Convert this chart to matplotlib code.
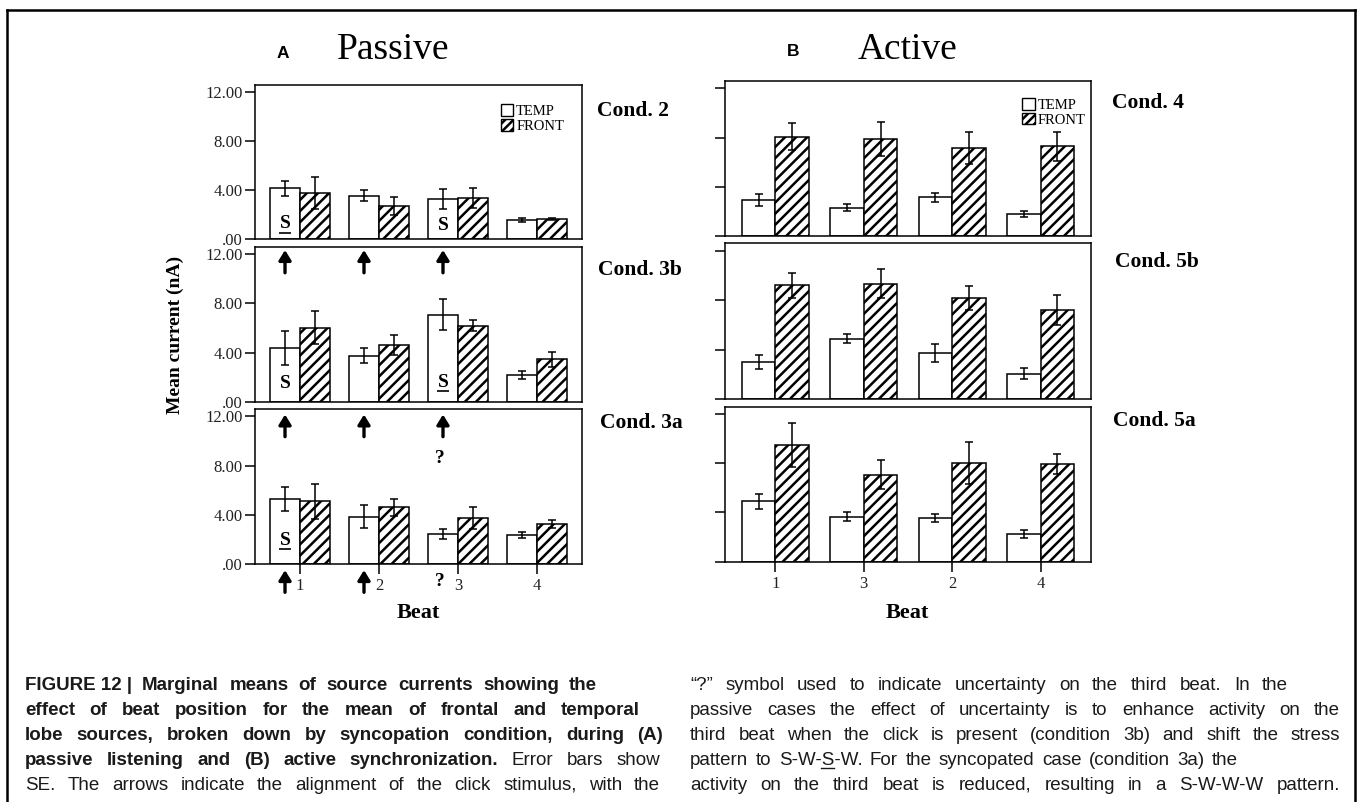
import numpy as np
import matplotlib
matplotlib.use("Agg")
import matplotlib.pyplot as plt
from matplotlib.patches import Patch
from matplotlib.lines import Line2D

# ---------------------------------------------------------------------
# dados: medias e erro padrao por batida
# ---------------------------------------------------------------------
passive_conds = ["Cond. 2", "Cond. 3b", "Cond. 3a"]
passive_beats = ["1", "2", "3", "4"]
passive_temp = [[4.16, 3.56, 3.29, 1.58], [4.36, 3.76, 7.08, 2.18], [5.28, 3.86, 2.42, 2.37]]
passive_temp_se = [[0.64, 0.45, 0.80, 0.20], [1.40, 0.60, 1.25, 0.35], [1.00, 0.95, 0.40, 0.27]]
passive_front = [[3.80, 2.72, 3.37, 1.63], [6.04, 4.63, 6.20, 3.46], [5.09, 4.60, 3.73, 3.24]]
passive_front_se = [[1.30, 0.70, 0.80, 0.08], [1.36, 0.80, 0.47, 0.62], [1.44, 0.68, 0.90, 0.35]]

active_conds = ["Cond. 4", "Cond. 5b", "Cond. 5a"]
active_beats = ["1", "3", "2", "4"]
active_temp = [[2.94, 2.31, 3.13, 1.80], [3.00, 4.89, 3.74, 2.05], [4.90, 3.67, 3.54, 2.24]]
active_temp_se = [[0.50, 0.30, 0.35, 0.27], [0.54, 0.35, 0.73, 0.46], [0.63, 0.40, 0.35, 0.30]]
active_front = [[8.06, 7.89, 7.16, 7.29], [9.19, 9.33, 8.18, 7.20], [9.47, 7.08, 8.03, 7.95]]
active_front_se = [[1.10, 1.36, 1.30, 1.17], [1.00, 1.17, 0.96, 1.20], [1.77, 1.17, 1.70, 0.84]]

yticks = [0, 4, 8, 12]
ytick_labels = [".00", "4.00", "8.00", "12.00"]

W, H = 1360, 802
SERIF = "Liberation Serif"
SANS = "Liberation Sans"
plt.rcParams["font.family"] = SERIF
plt.rcParams["hatch.linewidth"] = 1.8

fig = plt.figure(figsize=(W / 100, H / 100), dpi=100)
renderer = fig.canvas.get_renderer()


def fx(x):
    return x / W


def fy(y):
    return 1 - y / H


def make_axes(left, right, top, bottom):
    return fig.add_axes([fx(left), fy(bottom), (right - left) / W, (bottom - top) / H])


def draw_panel(ax, temp, temp_se, front, front_se, show_ylabels, beats=None):
    x = np.arange(len(temp))
    ekw = dict(ecolor="black", elinewidth=1.1, capsize=3, capthick=1.1)
    ax.bar(x - 0.19, temp, 0.38, color="white", edgecolor="black", linewidth=1.1,
           yerr=temp_se, error_kw=ekw)
    ax.bar(x + 0.19, front, 0.38, color="white", edgecolor="black", linewidth=1.1,
           hatch="///", yerr=front_se, error_kw=ekw)
    ax.set_xlim(-0.57, 3.57)
    ax.set_ylim(0, 12.6)
    ax.set_yticks(yticks)
    ax.set_yticklabels(ytick_labels if show_ylabels else [])
    ax.tick_params(axis="y", direction="out", length=7, width=1.1, pad=2,
                   labelsize=12, labelcolor="#222222")
    if beats is None:
        ax.tick_params(axis="x", bottom=False, labelbottom=False)
    else:
        ax.set_xticks(x)
        ax.set_xticklabels(beats)
        ax.tick_params(axis="x", direction="out", length=7, width=1.1, pad=3,
                       labelsize=12, labelcolor="#222222")
    for s in ax.spines.values():
        s.set_linewidth(1.1)


legend_handles = [
    Patch(facecolor="white", edgecolor="black", linewidth=1.0, label="TEMP"),
    Patch(facecolor="white", edgecolor="black", linewidth=1.0, hatch="////", label="FRONT"),
]

# painel A (passivo)
a_tops, a_bottoms = [85, 247, 409], [239.3, 401.7, 564]
axes_a = []
for i in range(3):
    ax = make_axes(255, 582, a_tops[i], a_bottoms[i])
    draw_panel(ax, passive_temp[i], passive_temp_se[i], passive_front[i], passive_front_se[i],
               True, passive_beats if i == 2 else None)
    axes_a.append(ax)

# painel B (ativo)
b_tops, b_bottoms = [81, 243.3, 406.7], [236, 399, 561.7]
axes_b = []
for i in range(3):
    ax = make_axes(725, 1091, b_tops[i], b_bottoms[i])
    draw_panel(ax, active_temp[i], active_temp_se[i], active_front[i], active_front_se[i],
               False, active_beats if i == 2 else None)
    axes_b.append(ax)

for ax, anchor in [(axes_a[0], (0.945, 0.875)), (axes_b[0], (0.985, 0.89))]:
    ax.legend(handles=legend_handles, loc="upper right", bbox_to_anchor=anchor,
              frameon=False, fontsize=10.5, handlelength=0.85, handleheight=0.85,
              handletextpad=0.2, labelspacing=0.05, borderpad=0, borderaxespad=0)

# rotulos de condicao
cond_pos_a = [(597, 111), (598, 270), (600, 423)]
cond_pos_b = [(1112, 103), (1115, 262), (1113, 421)]
for name, (x, y) in zip(passive_conds + active_conds, cond_pos_a + cond_pos_b):
    fig.text(fx(x), fy(y), name, fontsize=15.5, fontweight="bold", ha="left", va="center")

# titulos
fig.text(fx(283), fy(53), "A", family=SANS, fontweight="bold", fontsize=12.5, ha="center", va="center")
fig.text(fx(393), fy(50), "Passive", fontsize=27, ha="center", va="center")
fig.text(fx(793), fy(52), "B", family=SANS, fontweight="bold", fontsize=12.5, ha="center", va="center")
fig.text(fx(907), fy(50), "Active", fontsize=27, ha="center", va="center")

fig.text(fx(175), fy(335), "Mean current (nA)", rotation=90, fontsize=14, fontweight="bold",
         ha="center", va="center")
fig.text(fx(418), fy(613), "Beat", fontsize=16, fontweight="bold", ha="center", va="center")
fig.text(fx(907), fy(613), "Beat", fontsize=16, fontweight="bold", ha="center", va="center")


# marcas S (forte), setas do clique e "?"
def stress(ax, beat, y, underline):
    xc = beat - 0.19
    ax.text(xc, y, "S", fontsize=14, fontweight="bold", ha="center", va="center")
    if underline:
        ax.plot([xc - 0.07, xc + 0.07], [y - 0.72, y - 0.72], color="black", lw=1.2,
                solid_capstyle="butt")


def click(ax, beat, y_tip, y_tail):
    ax.annotate("", xy=(beat - 0.19, y_tip), xytext=(beat - 0.19, y_tail),
                annotation_clip=False,
                arrowprops=dict(arrowstyle="-|>,head_length=0.42,head_width=0.26",
                                color="black", lw=2.4, mutation_scale=14,
                                shrinkA=0, shrinkB=0))


stress(axes_a[0], 0, 1.25, True)
stress(axes_a[0], 2, 1.1, False)
stress(axes_a[1], 0, 1.5, False)
stress(axes_a[1], 2, 1.6, True)
stress(axes_a[2], 0, 1.95, True)

for b in range(3):
    click(axes_a[1], b, 12.35, 10.5)
    click(axes_a[2], b, 12.15, 10.35)
for b in range(2):
    click(axes_a[2], b, -0.5, -2.3)
axes_a[2].text(1.77, 8.57, "?", fontsize=14, fontweight="bold", ha="center", va="center")
axes_a[2].text(1.77, -1.4, "?", fontsize=14, fontweight="bold", ha="center", va="center")

# moldura
frame_kw = dict(color="black", lw=1.8)
fig.add_artist(Line2D([fx(7), fx(1355)], [fy(10), fy(10)], **frame_kw))
fig.add_artist(Line2D([fx(7), fx(7)], [fy(10), 0], **frame_kw))
fig.add_artist(Line2D([fx(1355), fx(1355)], [fy(10), 0], **frame_kw))

# ---------------------------------------------------------------------
# legenda da figura (texto justificado em duas colunas)
# ---------------------------------------------------------------------
CAP_SIZE = 13.5
left_lines = [
    ("FIGURE\u00a012\u00a0| Marginal means of source currents showing the", 99, 597),
    ("effect of beat position for the mean of frontal and temporal", 99, 640),
    ("lobe sources, broken down by syncopation condition, during (A)", 99, 663),
    ("passive listening and (B) active synchronization. Error bars show", 6, 660),
    ("SE. The arrows indicate the alignment of the click stimulus, with the", 0, 660),
]
right_lines = [
    ("\u201c?\u201d symbol used to indicate uncertainty on the third beat. In the", 0, 1288),
    ("passive cases the effect of uncertainty is to enhance activity on the", 0, 1340),
    ("third beat when the click is present (condition 3b) and shift the stress", 0, 1340),
    ("pattern to S-W-S-W. For the syncopated case (condition 3a) the", 0, 1238),
    ("activity on the third beat is reduced, resulting in a S-W-W-W pattern.", 0, 1340),
]


def text_width(s, bold=False):
    t = fig.text(0, 0, s, fontsize=CAP_SIZE, family=SANS,
                 fontweight="bold" if bold else "normal")
    w = t.get_window_extent(renderer).width
    t.remove()
    return w


def justify(line, n_bold, x0, x1, y):
    words = line.split(" ")
    texts, widths = [], []
    for i, w in enumerate(words):
        t = fig.text(0, 0, w, fontsize=CAP_SIZE, family=SANS, color="#1a1a1a",
                     fontweight="bold" if i < n_bold else "normal", ha="left", va="baseline")
        widths.append(t.get_window_extent(renderer).width)
        texts.append(t)
    gap = (x1 - x0 - sum(widths)) / (len(words) - 1)
    placed = []
    pos = x0
    for w, t, wd in zip(words, texts, widths):
        t.set_position((fx(pos), fy(y)))
        placed.append((w, pos))
        pos += wd + gap
    return placed


for k, (line, nb, x_end) in enumerate(left_lines):
    justify(line, nb, 25, x_end, 690 + 25 * k)
for k, (line, nb, x_end) in enumerate(right_lines):
    placed = justify(line, nb, 690, x_end, 690 + 25 * k)
    for w, pos in placed:
        if w == "S-W-S-W.":
            u0 = pos + text_width("S-W-")
            u1 = u0 + text_width("S")
            yu = 690 + 25 * k + 2.5
            fig.add_artist(Line2D([fx(u0), fx(u1)], [fy(yu), fy(yu)], color="#1a1a1a", lw=1.0))

fig.savefig("out.png", dpi=100)
